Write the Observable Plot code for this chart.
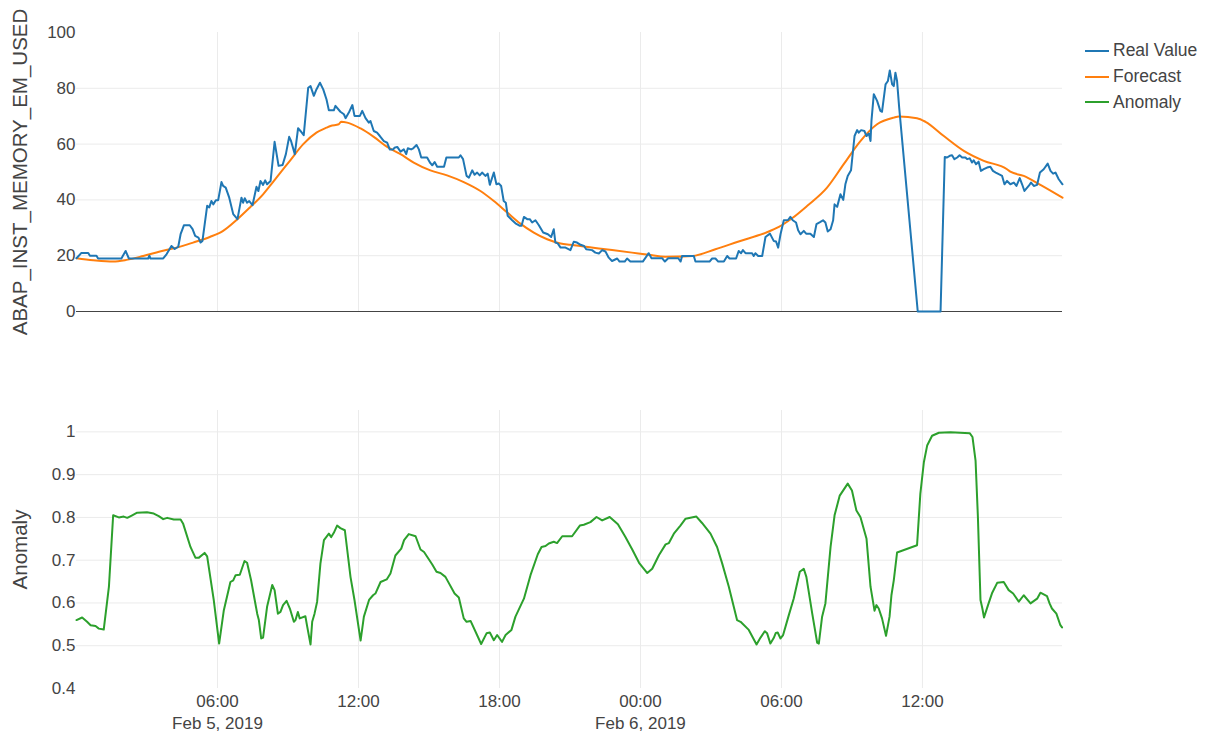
<!DOCTYPE html>
<html><head><meta charset="utf-8">
<script src="https://cdn.jsdelivr.net/npm/d3@7"></script>
<script src="https://cdn.jsdelivr.net/npm/@observablehq/plot@0.6"></script>
<style>
body{margin:0;background:#fff;font-family:"Liberation Sans",Arial,sans-serif;}
#wrap{position:relative;width:1210px;height:735px;overflow:hidden;background:#fff;}
#top,#bottom{position:absolute;left:0;}
#top{top:0}
#bottom{top:340px}
#legend{position:absolute;left:1085px;top:38px;font-size:17.5px;color:#444;}
.item{display:flex;align-items:center;height:25.8px;white-space:nowrap;}
.swatch{width:24px;height:2px;margin-right:4px;}
</style></head><body>
<div id="wrap"><div id="top"></div><div id="bottom"></div><div id="legend"></div></div>
<script>
// ---- data (hours since 2019-02-05 00:00, value) ----
const realValue = [
[0,19.1],[0.21,21],[0.5,21],[0.57,20],[0.85,20],[0.92,19],[1.91,19],[2.09,21.7],[2.23,19],[3.05,19],[3.1,20],[3.15,19],[3.69,19],[3.83,20.5],[4.04,23.5],[4.18,22.4],[4.33,23.2],[4.43,27.7],[4.57,30.9],[4.82,30.9],[4.94,29.5],[5.05,27.1],[5.19,26.5],[5.28,24.7],[5.36,25.3],[5.56,37.9],[5.65,37.3],[5.74,39.6],[5.82,38.4],[5.93,39.9],[6.03,39.9],[6.17,46.4],[6.24,45],[6.35,44.4],[6.5,40.8],[6.67,34.9],[6.85,33.1],[7.02,40.8],[7.09,39],[7.16,40.6],[7.26,39],[7.35,39.6],[7.49,38.1],[7.66,44.7],[7.74,43.2],[7.83,46.8],[7.94,45.4],[8.03,47],[8.11,45.6],[8.26,46.8],[8.43,60.8],[8.6,52.2],[8.77,52.5],[8.91,56.4],[9.05,62.6],[9.13,61.1],[9.29,56.4],[9.43,65.7],[9.53,64.7],[9.67,63.2],[9.86,80.2],[9.96,80.8],[10.1,77.3],[10.21,79.6],[10.36,82],[10.5,79.6],[10.64,76],[10.74,72.1],[10.95,72.1],[11.02,73.7],[11.23,71.6],[11.38,70.7],[11.45,69.3],[11.59,71.3],[11.74,74],[11.83,70.1],[12.06,70.1],[12.16,71.9],[12.3,69.3],[12.44,67.7],[12.51,68.3],[12.65,64.7],[12.79,64.1],[12.91,62.9],[13.08,61.1],[13.22,60.5],[13.33,58.1],[13.48,58.1],[13.53,58.7],[13.65,59],[13.79,57.3],[13.93,58.1],[14.03,56.4],[14.1,58.5],[14.24,58.1],[14.33,58.5],[14.47,59.7],[14.57,58.1],[14.67,55.2],[14.92,55.2],[15.04,53.4],[15.14,52.4],[15.24,53.6],[15.35,51.9],[15.64,51.9],[15.74,55.2],[16.27,55.2],[16.34,56],[16.45,54.6],[16.6,48.6],[16.7,48],[16.84,50.6],[16.94,49],[17.05,49.8],[17.16,48.8],[17.26,49.8],[17.4,48.6],[17.5,49.4],[17.59,45.4],[17.76,49.8],[17.87,45.6],[17.97,45.9],[18.07,45],[18.18,39.6],[18.27,39],[18.35,34.3],[18.54,32.7],[18.68,31.6],[18.87,30.7],[18.94,30.7],[19.04,33.9],[19.18,33.1],[19.29,33.1],[19.39,31.9],[19.53,32.7],[19.67,31],[19.86,28.3],[20.06,27.7],[20.2,26.7],[20.31,29.5],[20.38,24.7],[20.48,24.4],[20.6,22.9],[20.81,22.9],[21.02,22],[21.16,25],[21.3,24.7],[21.45,23.9],[21.6,23.5],[21.69,22.3],[21.94,22],[22.08,21.1],[22.23,20.8],[22.37,22],[22.51,21.5],[22.65,19.3],[22.79,18.1],[23.01,19],[23.11,17.9],[23.33,17.9],[23.43,19],[23.57,17.9],[24.1,17.9],[24.35,20.9],[24.47,19.1],[24.92,19.1],[25.04,17.9],[25.18,19.1],[25.61,19.1],[25.71,17.9],[25.77,19.9],[26.27,19.9],[26.34,17.9],[26.94,17.9],[27.05,19],[27.19,19],[27.31,17.9],[27.55,17.9],[27.69,19.9],[27.79,19],[28.07,19],[28.18,21.7],[28.28,20.9],[28.36,22],[28.47,20.9],[28.75,20.9],[28.82,19.9],[28.89,20.9],[29.01,19.9],[29.18,19.9],[29.32,26.7],[29.51,27.9],[29.67,25.3],[29.77,25.1],[29.86,22.9],[29.96,27.7],[30.1,32.7],[30.28,32.8],[30.38,33.9],[30.48,32.7],[30.62,31.9],[30.71,29.1],[30.81,27.7],[30.95,28.9],[31.05,27.9],[31.23,27.9],[31.38,26.7],[31.49,31.3],[31.66,32.1],[31.77,32.7],[31.87,31.9],[31.97,28.7],[32.09,29.5],[32.2,32.7],[32.26,38.4],[32.37,37.5],[32.51,42],[32.63,40],[32.72,45.6],[32.82,48.6],[32.96,50.6],[33.11,62.9],[33.22,65],[33.29,64.1],[33.39,65],[33.53,64.7],[33.62,62.9],[33.72,63.8],[33.79,61.1],[33.83,68.3],[33.93,77.9],[34.07,75.5],[34.21,71.9],[34.28,71.6],[34.43,81.4],[34.53,82.6],[34.61,86.4],[34.71,81.4],[34.78,80.8],[34.85,85.6],[34.92,82.6],[35.01,73.1],[35.8,0],[36.77,0],[36.95,55.4],[37.05,55.2],[37.16,55.8],[37.26,56],[37.36,54.6],[37.48,55.2],[37.58,56],[37.69,55.2],[37.83,55.2],[37.9,54.6],[38.01,54.9],[38.11,53.4],[38.18,54.2],[38.28,52.8],[38.39,53.7],[38.49,50.4],[38.61,51],[38.75,51.6],[38.89,51.9],[39,50.4],[39.12,49.8],[39.25,49.2],[39.39,48.6],[39.49,45.6],[39.6,46.8],[39.74,45.6],[39.89,46.2],[40,45],[40.14,47.8],[40.24,45.6],[40.34,43.2],[40.52,45],[40.62,46.2],[40.74,45],[40.88,45.4],[41,49.8],[41.16,51],[41.33,53],[41.45,50.4],[41.56,49.4],[41.66,49.8],[41.8,47.4],[41.96,45.6]
];
const forecast = [
[0,19.1],[0.71,18.4],[1.56,17.9],[2.13,18.5],[2.84,19.9],[3.55,21.5],[4.26,22.9],[4.96,24.7],[5.67,26.7],[6.24,28.9],[6.81,32.8],[7.38,37.3],[7.94,42],[8.23,45],[8.51,48],[9.08,54],[9.65,60],[10.21,64.1],[10.64,65.9],[10.81,66.5],[11.16,67.1],[11.26,68],[11.52,67.7],[12.09,65.6],[12.65,62.6],[13.22,59],[13.79,56.4],[14.35,53.4],[15.06,50.6],[15.77,48.8],[16.48,46.4],[17.19,43.2],[17.76,39.6],[18.33,35.5],[18.89,31.5],[19.46,28.3],[20.03,25.9],[20.6,24.4],[21.02,23.9],[22.23,22.6],[23.64,21.1],[24.35,20.3],[25.06,19.6],[26.2,19.9],[27.19,22.3],[28.18,25.1],[29.32,28.2],[29.89,30.3],[30.45,33.4],[31.1,37.9],[31.94,44.4],[32.65,52.8],[33.36,61.1],[34.07,67.1],[34.78,69.5],[35,69.9],[35.77,69.3],[36.13,68],[36.91,62.9],[37.76,57.6],[38.61,54],[39.6,51],[39.74,50.1],[40.31,48.6],[41.02,45.4],[41.96,40.8]
];
const anomaly = [
[0,0.56],[0.24,0.566],[0.45,0.556],[0.6,0.548],[0.81,0.546],[0.95,0.54],[1.16,0.538],[1.38,0.638],[1.56,0.805],[1.8,0.8],[2.01,0.802],[2.16,0.799],[2.37,0.805],[2.58,0.811],[3.0,0.812],[3.29,0.809],[3.5,0.803],[3.69,0.796],[3.86,0.799],[4.14,0.795],[4.43,0.795],[4.54,0.785],[4.85,0.731],[5.06,0.706],[5.21,0.706],[5.45,0.717],[5.56,0.709],[5.84,0.607],[6.07,0.505],[6.27,0.583],[6.55,0.649],[6.67,0.653],[6.77,0.665],[6.95,0.666],[7.15,0.698],[7.26,0.694],[7.43,0.653],[7.69,0.575],[7.76,0.56],[7.86,0.517],[7.94,0.519],[8.11,0.591],[8.33,0.642],[8.43,0.63],[8.57,0.575],[8.68,0.579],[8.79,0.595],[8.94,0.605],[9.08,0.587],[9.25,0.556],[9.32,0.56],[9.42,0.579],[9.5,0.564],[9.74,0.569],[9.82,0.544],[9.96,0.503],[10.03,0.556],[10.13,0.575],[10.24,0.603],[10.38,0.692],[10.53,0.747],[10.74,0.762],[10.84,0.754],[10.95,0.764],[11.09,0.781],[11.23,0.775],[11.42,0.77],[11.66,0.661],[11.83,0.607],[12.09,0.512],[12.23,0.568],[12.45,0.607],[12.62,0.618],[12.72,0.622],[12.94,0.649],[13.2,0.655],[13.36,0.669],[13.57,0.711],[13.82,0.727],[13.94,0.747],[14.14,0.761],[14.43,0.756],[14.64,0.725],[14.79,0.719],[15.14,0.69],[15.32,0.673],[15.49,0.67],[15.7,0.661],[16.09,0.622],[16.27,0.613],[16.48,0.564],[16.6,0.556],[16.77,0.558],[17.08,0.521],[17.22,0.504],[17.45,0.529],[17.59,0.531],[17.76,0.513],[17.9,0.525],[18.11,0.509],[18.26,0.525],[18.51,0.537],[18.68,0.568],[19.04,0.61],[19.32,0.665],[19.63,0.714],[19.79,0.731],[19.96,0.733],[20.1,0.739],[20.31,0.743],[20.45,0.74],[20.67,0.756],[21.09,0.756],[21.42,0.781],[21.59,0.783],[21.87,0.789],[22.13,0.801],[22.37,0.793],[22.69,0.801],[23.04,0.784],[23.36,0.754],[23.65,0.725],[23.94,0.694],[24.29,0.67],[24.5,0.68],[24.79,0.712],[25.07,0.737],[25.21,0.74],[25.42,0.762],[25.7,0.781],[25.92,0.797],[26.38,0.802],[26.62,0.787],[26.98,0.762],[27.26,0.731],[27.48,0.692],[27.76,0.638],[28.11,0.56],[28.26,0.556],[28.61,0.537],[28.94,0.503],[29.11,0.519],[29.29,0.534],[29.39,0.529],[29.53,0.505],[29.67,0.518],[29.76,0.53],[29.84,0.531],[29.96,0.517],[30.07,0.525],[30.31,0.571],[30.52,0.61],[30.78,0.673],[30.95,0.68],[31.06,0.661],[31.31,0.575],[31.52,0.507],[31.59,0.505],[31.73,0.568],[31.87,0.599],[32.09,0.731],[32.26,0.805],[32.48,0.851],[32.65,0.865],[32.82,0.879],[33.0,0.863],[33.19,0.816],[33.36,0.801],[33.62,0.75],[33.79,0.638],[33.96,0.582],[34.04,0.595],[34.14,0.587],[34.28,0.564],[34.45,0.523],[34.6,0.568],[34.68,0.618],[34.78,0.653],[34.92,0.718],[35.77,0.735],[35.91,0.855],[36.06,0.929],[36.2,0.968],[36.41,0.991],[36.7,0.998],[37.19,0.999],[38.01,0.997],[38.13,0.988],[38.26,0.933],[38.36,0.801],[38.47,0.607],[38.55,0.587],[38.62,0.566],[38.79,0.595],[38.97,0.624],[39.18,0.647],[39.46,0.649],[39.67,0.63],[39.86,0.622],[40.1,0.603],[40.31,0.618],[40.6,0.599],[40.88,0.61],[41.02,0.624],[41.3,0.616],[41.41,0.599],[41.51,0.587],[41.7,0.575],[41.87,0.548],[41.94,0.543]
];
const xTickHours = [6, 12, 18, 24, 30, 36];
const xTickLabels = ["06:00\nFeb 5, 2019", "12:00", "18:00", "00:00\nFeb 6, 2019", "06:00", "12:00"];
const yTicksTop = [0, 20, 40, 60, 80, 100];
const yGridTop = [20, 40, 60, 80];
const yTicksBottom = [0.4, 0.5, 0.6, 0.7, 0.8, 0.9, 1];
const yTickLabelsBottom = ["0.4", "0.5", "0.6", "0.7", "0.8", "0.9", "1"];
const yGridBottom = [0.5, 0.6, 0.7, 0.8, 0.9, 1];
const seriesNames = ["Real Value", "Forecast", "Anomaly"];
const seriesColors = ["#1f77b4", "#ff7f0e", "#2ca02c"];
const yTitleTop = "ABAP_INST_MEMORY_EM_USED";
const yTitleBottom = "Anomaly";

// ---- helpers ----
const base = Date.UTC(2019, 1, 5);
const toDate = h => new Date(base + h * 3600e3);
const xDomain = [toDate(0), toDate(41.96)];
const xTicks = xTickHours.map(toDate);
const xLabelMap = new Map(xTicks.map((d, i) => [+d, xTickLabels[i]]));
const yLabelMap = new Map(yTicksBottom.map((d, i) => [d, yTickLabelsBottom[i]]));
const gridColor = "#ebebeb";
const font = '"Liberation Sans", Arial, sans-serif';
const style = {fontFamily: font, fontSize: "17px", color: "#444", background: "transparent", overflow: "visible"};

const topChart = Plot.plot({
  width: 1080, height: 340,
  marginLeft: 76, marginRight: 18, marginTop: 32, marginBottom: 29,
  style,
  x: {type: "utc", domain: xDomain, axis: null},
  y: {domain: [0, 100], axis: null},
  marks: [
    Plot.gridX(xTicks, {stroke: gridColor, strokeOpacity: 1}),
    Plot.gridY(yGridTop, {stroke: gridColor, strokeOpacity: 1}),
    Plot.ruleY([0], {stroke: "#444", strokeWidth: 1}),
    Plot.axisY(yTicksTop, {tickSize: 0, tickPadding: 1, fontSize: 17, fill: "#444", label: null}),
    Plot.line(forecast, {x: d => toDate(d[0]), y: d => d[1], stroke: seriesColors[1], strokeWidth: 2, curve: "monotone-x"}),
    Plot.line(realValue, {x: d => toDate(d[0]), y: d => d[1], stroke: seriesColors[0], strokeWidth: 2}),
    Plot.text([yTitleTop], {text: d => d, frameAnchor: "left", dx: -56, rotate: -90, textAnchor: "middle", lineAnchor: "middle", fontSize: 20.5, fill: "#444"})
  ]
});
document.getElementById("top").appendChild(topChart);

const bottomChart = Plot.plot({
  width: 1080, height: 395,
  marginLeft: 76, marginRight: 18, marginTop: 70, marginBottom: 47,
  style,
  x: {type: "utc", domain: xDomain, axis: null},
  y: {domain: [0.4, 1.05], axis: null},
  marks: [
    Plot.gridX(xTicks, {stroke: gridColor, strokeOpacity: 1}),
    Plot.gridY(yGridBottom, {stroke: gridColor, strokeOpacity: 1}),
    Plot.axisY(yTicksBottom, {tickSize: 0, tickPadding: 1, fontSize: 17, fill: "#444", label: null, tickFormat: d => yLabelMap.get(d)}),
    Plot.axisX(xTicks, {tickSize: 0, tickPadding: 2, fontSize: 17, fill: "#444", label: null, lineHeight: 1.34, tickFormat: d => xLabelMap.get(+d)}),
    Plot.line(anomaly, {x: d => toDate(d[0]), y: d => d[1], stroke: seriesColors[2], strokeWidth: 2}),
    Plot.text([yTitleBottom], {text: d => d, frameAnchor: "left", dx: -56, rotate: -90, textAnchor: "middle", lineAnchor: "middle", fontSize: 20.5, fill: "#444"})
  ]
});
document.getElementById("bottom").appendChild(bottomChart);

// ---- legend ----
const legend = document.getElementById("legend");
seriesNames.forEach((name, i) => {
  const item = document.createElement("div");
  item.className = "item";
  const sw = document.createElement("span");
  sw.className = "swatch";
  sw.style.background = seriesColors[i];
  const label = document.createElement("span");
  label.textContent = name;
  item.appendChild(sw);
  item.appendChild(label);
  legend.appendChild(item);
});
</script>
</body></html>
